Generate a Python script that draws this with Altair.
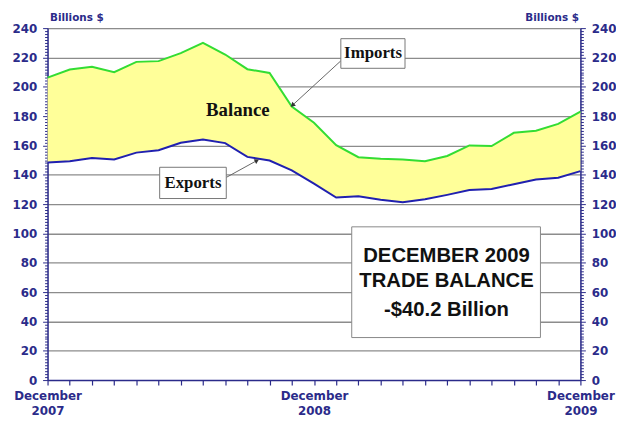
import altair as alt
import pandas as pd

# ---------------- data ----------------
month_index = list(range(25))  # Dec 2007 ... Dec 2009
imports = [206.2, 211.8, 213.6, 210.0, 217.0, 217.5, 223.0, 230.0, 222.0, 212.0,
           209.4, 186.5, 175.5, 160.2, 152.0, 151.0, 150.4, 149.2, 152.8, 160.0,
           159.6, 168.6, 170.0, 174.7, 183.0]
exports = [148.3, 149.2, 151.5, 150.4, 155.1, 156.7, 161.8, 164.1, 161.6, 152.2,
           149.7, 143.0, 134.0, 124.5, 125.3, 122.9, 121.3, 123.3, 126.3, 129.6,
           130.3, 133.5, 136.8, 138.0, 142.5]
x_label_months = [0, 12, 24]
x_label_lines = [["December", "2007"], ["December", "2008"], ["December", "2009"]]
y_major_step = 20
y_minor = list(range(0, 241, 2))
y_title = "Billions $"

callout_names = ["Imports", "Exports"]
headline_lines = ["DECEMBER 2009", "TRADE BALANCE", "-$40.2 Billion"]
balance_label = "Balance"

# annotation anchors (in month / billions units)
callout_text_m = [14.66, 6.55]
callout_text_v = [222.7, 134.5]
callout_box_m = [13.21, 5.05]
callout_box_m2 = [16.10, 8.05]
callout_box_v = [232.8, 145.1]
callout_box_v2 = [212.6, 123.8]
arrow_m = [13.21, 8.05]
arrow_v = [217.7, 138.2]
arrow_m2 = [11.03, 9.43]
arrow_v2 = [187.4, 149.7]
arrow_angle = [227.0, 61.0]
headline_m = [17.97, 17.97, 17.97]
headline_v = [84.3, 67.4, 47.9]
headline_box = {"m": [13.70], "m2": [22.20], "v": [104.5], "v2": [29.0]}
balance_m = [8.57]
balance_v = [184.0]

# ---------------- styling ----------------
NAVY = "#2b2b8a"
GRID = "#8c8c8c"
YELLOW = "#ffff99"
GREEN = "#33dd33"
BLUE = "#2020b0"
AXFONT = "DejaVu Sans"

df = pd.DataFrame({"m": month_index, "imports": imports, "exports": exports})

label_expr = ""
for mi, lines in zip(x_label_months, x_label_lines):
    label_expr += f"datum.value == {mi} ? {lines!r} : "
label_expr += "''"

x_axis = alt.Axis(
    values=month_index, labelExpr=label_expr, grid=False, tickSize=5,
    tickColor=NAVY, domainColor=NAVY, domainWidth=1.5, tickWidth=1.2,
    labelColor=NAVY, labelFont=AXFONT, labelFontWeight="bold", labelFontSize=12,
    labelPadding=6, labelLineHeight=15, labelOverlap=False, labelFlush=False,
    title=None,
)
x_scale = alt.Scale(domain=[0, 24], nice=False, zero=False)
y_scale = alt.Scale(domain=[0, 240], nice=False)

major_test = f"datum.value % {y_major_step} == 0"


def y_axis(orient):
    return alt.Axis(
        orient=orient, values=y_minor,
        labelExpr=f"{major_test} ? datum.label : ''",
        tickSize={"condition": {"test": major_test, "value": 5}, "value": 3},
        grid=(orient == "left"), gridColor=GRID, gridWidth=1.3,
        gridOpacity={"condition": {"test": f"{major_test} && datum.value > 0", "value": 1}, "value": 0},
        domainColor=NAVY, domainWidth=1.5, tickColor=NAVY, tickWidth=1,
        labelColor=NAVY, labelFont=AXFONT, labelFontWeight="bold", labelFontSize=12,
        labelPadding=6, labelOverlap=False, labelBound=False,
        title=y_title, titleAngle=0, titleX=(2 if orient == "left" else -2), titleY=-11,
        titleAlign=("left" if orient == "left" else "right"), titleBaseline="middle",
        titleFont=AXFONT, titleFontWeight="bold", titleFontSize=10.5, titleColor=NAVY,
    )


def X(field):
    return alt.X(field, type="quantitative", scale=x_scale, axis=x_axis)


def Y(field):
    return alt.Y(field, type="quantitative", scale=y_scale, axis=y_axis("left"))


base = alt.Chart(df)
area = base.mark_area(color=YELLOW, opacity=1).encode(x=X("m"), y=Y("exports"), y2=alt.Y2("imports"))
imp_line = base.mark_line(color=GREEN, strokeWidth=2).encode(x=X("m"), y=Y("imports"))
exp_line = base.mark_line(color=BLUE, strokeWidth=2).encode(x=X("m"), y=Y("exports"))

call_df = pd.DataFrame({
    "name": callout_names, "tm": callout_text_m, "tv": callout_text_v,
    "bm": callout_box_m, "bm2": callout_box_m2, "bv": callout_box_v, "bv2": callout_box_v2,
    "am": arrow_m, "av": arrow_v, "am2": arrow_m2, "av2": arrow_v2, "ang": arrow_angle,
})
call_base = alt.Chart(call_df)
arrows = call_base.mark_rule(color="#666666", strokeWidth=1).encode(
    x=X("am"), y=Y("av"), x2=alt.X2("am2"), y2=alt.Y2("av2"))
heads = call_base.mark_point(shape="triangle-up", filled=True, color="#333333", size=28, opacity=1).encode(
    x=X("am2"), y=Y("av2"), angle=alt.Angle("ang:Q", scale=None))
boxes = call_base.mark_rect(fill="white", stroke="#777777", strokeWidth=1).encode(
    x=X("bm"), x2=alt.X2("bm2"), y=Y("bv"), y2=alt.Y2("bv2"))
box_text = call_base.mark_text(font="Liberation Serif", fontWeight="bold", fontSize=17,
                               color="#111111", baseline="middle").encode(
    x=X("tm"), y=Y("tv"), text="name:N")

hb_df = pd.DataFrame(headline_box)
hbox = alt.Chart(hb_df).mark_rect(fill="white", stroke="#888888", strokeWidth=1).encode(
    x=X("m"), x2=alt.X2("m2"), y=Y("v"), y2=alt.Y2("v2"))
hl_df = pd.DataFrame({"t": headline_lines, "m": headline_m, "v": headline_v})
htext = alt.Chart(hl_df).mark_text(font="Liberation Sans", fontWeight="bold", fontSize=20.5,
                                   color="#111111", baseline="middle").encode(
    x=X("m"), y=Y("v"), text="t:N")

bal_df = pd.DataFrame({"t": [balance_label], "m": balance_m, "v": balance_v})
bal = alt.Chart(bal_df).mark_text(font="Liberation Serif", fontWeight="bold", fontSize=19,
                                  color="#111111", baseline="middle").encode(
    x=X("m"), y=Y("v"), text="t:N")

inner = alt.layer(area, imp_line, exp_line, arrows, heads, boxes, box_text, hbox, htext, bal)

right = base.mark_line(opacity=0).encode(
    x=X("m"),
    y=alt.Y("exports", type="quantitative", scale=y_scale, axis=y_axis("right")),
)

chart = alt.layer(inner, right).resolve_scale(y="independent").properties(
    width=539, height=356,
    padding={"left": 40, "top": 18, "right": 36, "bottom": 36},
    autosize=alt.AutoSizeParams(type="none"),
).configure_view(strokeWidth=0).configure(background="white")

chart.save("out.html", embed_options={"renderer": "svg", "actions": False})
